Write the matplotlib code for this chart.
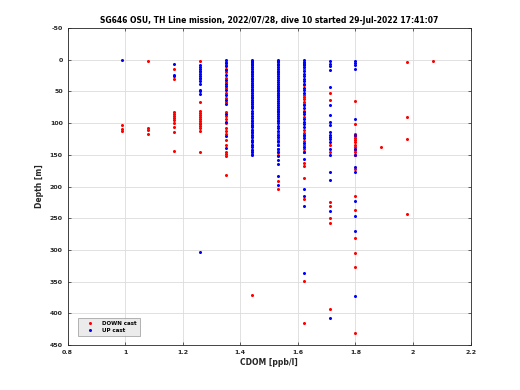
import matplotlib
matplotlib.use("Agg")
import matplotlib.pyplot as plt

plt.rcParams["axes.unicode_minus"] = False

# CDOM levels (ppb/l) and sampled depths (m) for down / up casts
down_cdom = [0.99, 1.08, 1.17, 1.26, 1.35, 1.44, 1.53, 1.62, 1.71, 1.80, 1.89, 1.98, 2.07]
down_depth = [
    [103, 109, 113],
    [2, 108, 111, 117],
    [14, 31, 83, 86, 89, 92, 95, 99, 106, 114, 144],
    [2, 20, 30, 66, 81, 84, 87, 90, 93, 96, 99, 102, 105, 108, 112, 146],
    [3, 8, 14, 20, 28, 35, 44, 52, 60, 66, 82, 88, 94, 100, 107, 112, 117, 126,
     135, 145, 148, 151, 181],
    [5, 12, 22, 30, 40, 48, 58, 66, 74, 85, 95, 104, 110, 116, 122, 128, 135,
     142, 148, 371],
    [20, 45, 55, 80, 95, 115, 125, 130, 135, 140, 145, 150, 191, 203],
    [5, 15, 40, 55, 58, 62, 66, 70, 80, 90, 110, 115, 120, 128, 135, 140, 145,
     163, 168, 186, 220, 349, 415],
    [53, 63, 135, 145, 224, 231, 249, 258, 393],
    [65, 101, 117, 120, 123, 126, 130, 134, 138, 142, 146, 150, 172, 215, 237,
     281, 304, 326, 431],
    [137],
    [3, 90, 125, 243],
    [2],
]

up_cdom = [0.99, 1.17, 1.26, 1.35, 1.44, 1.53, 1.62, 1.71, 1.80]
up_depth = [
    [0],
    [7, 24, 26],
    [8, 11, 14, 17, 22, 25, 28, 33, 38, 47, 50, 54, 303],
    [0, 5, 10, 16, 24, 32, 38, 42, 48, 56, 64, 70, 85, 98, 120, 139],
    [0, 2, 4, 7, 9, 12, 15, 17, 20, 23, 26, 28, 31, 34, 37, 40, 43, 46, 49, 52,
     55, 58, 61, 64, 67, 70, 73, 76, 80, 84, 88, 92, 96, 100, 103, 106, 110,
     114, 118, 122, 126, 130, 134, 138, 142, 146, 150],
    [0, 2, 4, 6, 9, 12, 14, 17, 20, 23, 26, 29, 32, 35, 38, 41, 44, 47, 50, 53,
     56, 59, 62, 65, 68, 71, 74, 77, 80, 83, 86, 89, 92, 96, 100, 104, 108,
     112, 118, 122, 128, 134, 140, 146, 152, 158, 165, 183, 197],
    [0, 3, 6, 9, 12, 18, 22, 26, 30, 34, 38, 44, 48, 52, 72, 76, 82, 86, 94,
     98, 102, 106, 118, 124, 132, 138, 146, 157, 204, 215, 231, 336],
    [2, 6, 10, 16, 43, 71, 87, 98, 103, 114, 118, 121, 125, 130, 140, 150, 177,
     190, 238, 407],
    [2, 5, 9, 14, 93, 118, 140, 150, 169, 177, 222, 246, 270, 373],
]

title = "SG646 OSU, TH Line mission, 2022/07/28, dive 10 started 29-Jul-2022 17:41:07"

fig = plt.figure(figsize=(5.2, 3.9), dpi=100)
ax = fig.add_axes([0.13, 0.115, 0.775, 0.813])

dx, dy = [], []
for c, ds in zip(down_cdom, down_depth):
    dx += [c] * len(ds)
    dy += ds
ux, uy = [], []
for c, ds in zip(up_cdom, up_depth):
    ux += [c] * len(ds)
    uy += ds

ax.plot(dx, dy, ".", color="red", markersize=2.4, label="DOWN cast")
ax.plot(ux, uy, ".", color="blue", markersize=2.4, label="UP cast")

ax.set_xlim(0.8, 2.2)
ax.set_ylim(450, -50)
ax.set_xticks([0.8, 1, 1.2, 1.4, 1.6, 1.8, 2, 2.2])
ax.set_xticklabels(["0.8", "1", "1.2", "1.4", "1.6", "1.8", "2", "2.2"])
ax.set_yticks(range(-50, 451, 50))
ax.grid(True, color="#dcdcdc", linewidth=0.6)
ax.set_axisbelow(True)
ax.tick_params(direction="in", length=2.5, width=0.5, labelsize=4.5,
               colors="#262626", top=True, right=True)
for lab in ax.get_xticklabels() + ax.get_yticklabels():
    lab.set_fontweight("bold")
for s in ax.spines.values():
    s.set_linewidth(0.6)
    s.set_color("#262626")

ax.set_xlabel("CDOM [ppb/l]", fontsize=5.5, fontweight="bold", color="#262626", labelpad=2)
ax.set_ylabel("Depth [m]", fontsize=5.5, fontweight="bold", color="#262626", labelpad=4)
ax.set_title(title, fontsize=5.5, fontweight="bold", pad=4)

leg = ax.legend(loc="lower left", prop={"weight": "bold", "size": 4},
                frameon=True, fancybox=False, borderpad=0.5, labelspacing=0.4,
                handlelength=3, bbox_to_anchor=(0.02, 0.02))
leg.get_frame().set_facecolor("#e6e6e6")
leg.get_frame().set_edgecolor("#808080")
leg.get_frame().set_linewidth(0.5)

plt.savefig("out.png", dpi=100)
